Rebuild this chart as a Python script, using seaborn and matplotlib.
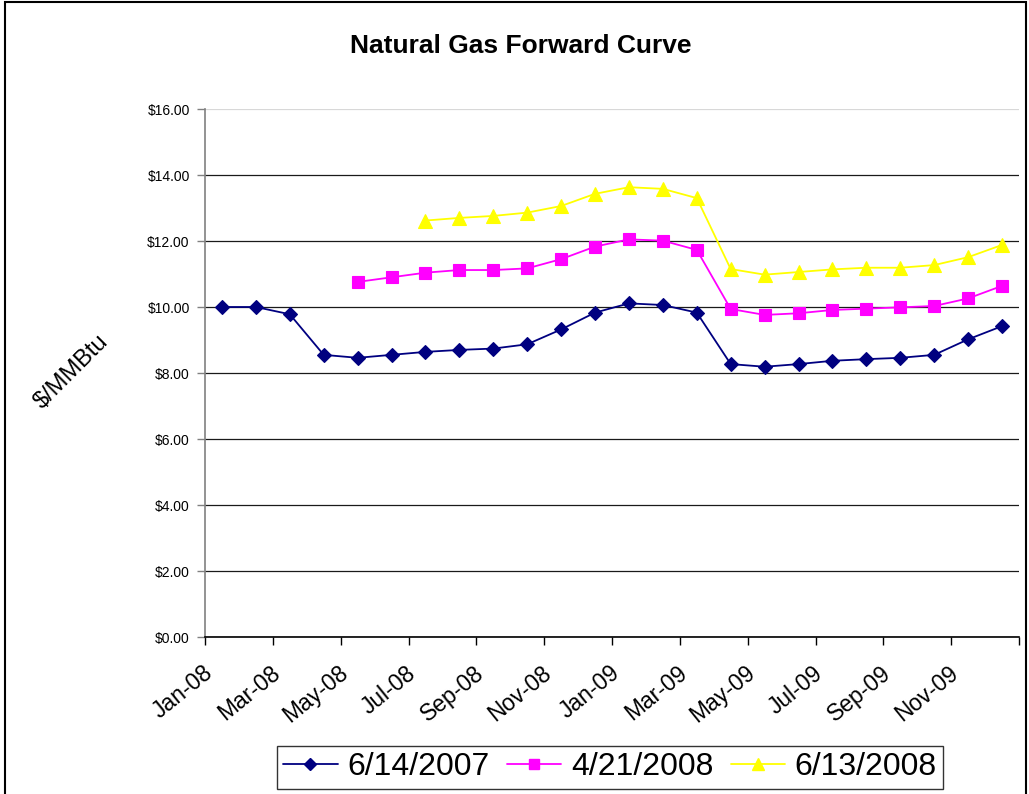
import numpy as np
import pandas as pd
import matplotlib
matplotlib.use("Agg")
import matplotlib.pyplot as plt
from matplotlib.lines import Line2D
from matplotlib.patches import Rectangle
import seaborn as sns

months = ["Jan-08", "Feb-08", "Mar-08", "Apr-08", "May-08", "Jun-08",
          "Jul-08", "Aug-08", "Sep-08", "Oct-08", "Nov-08", "Dec-08",
          "Jan-09", "Feb-09", "Mar-09", "Apr-09", "May-09", "Jun-09",
          "Jul-09", "Aug-09", "Sep-09", "Oct-09", "Nov-09", "Dec-09"]

series_names = ["6/14/2007", "4/21/2008", "6/13/2008"]

curve_2007_06_14 = [10.00, 10.00, 9.78, 8.55, 8.46, 8.55, 8.64, 8.70, 8.74, 8.87, 9.32, 9.83,
                    10.11, 10.06, 9.83, 8.27, 8.19, 8.27, 8.37, 8.42, 8.46, 8.55, 9.02, 9.42]
curve_2008_04_21 = [None, None, None, None, 10.76, 10.90, 11.04, 11.12, 11.12, 11.17, 11.45, 11.83,
                    12.05, 12.01, 11.73, 9.94, 9.76, 9.81, 9.91, 9.95, 9.99, 10.03, 10.26, 10.64]
curve_2008_06_13 = [None, None, None, None, None, None, 12.62, 12.70, 12.76, 12.86, 13.06, 13.43,
                    13.63, 13.58, 13.30, 11.15, 10.98, 11.06, 11.14, 11.19, 11.19, 11.27, 11.51, 11.88]

y_ticks = [0, 2, 4, 6, 8, 10, 12, 14, 16]

colors = ["#000080", "#FF00FF", "#FFFF00"]
markers = ["D", "s", "^"]
msizes = [6.8, 8.2, 9.5]

sns.set_theme(style="white")
plt.rcParams["font.family"] = ["Liberation Sans", "DejaVu Sans"]
plt.rcParams["text.color"] = "black"
plt.rcParams["axes.labelcolor"] = "black"
plt.rcParams["xtick.color"] = "black"
plt.rcParams["ytick.color"] = "black"

W, H = 1029, 794
fig = plt.figure(figsize=(W / 100, H / 100), dpi=100)
L, R, T, B = 205, 1019, 109, 637
ax = fig.add_axes([L / W, 1 - B / H, (R - L) / W, (B - T) / H])

all_curves = [curve_2007_06_14, curve_2008_04_21, curve_2008_06_13]
for name, vals, c, m, ms in zip(series_names, all_curves, colors, markers, msizes):
    df = pd.DataFrame({"idx": np.arange(len(months)),
                       "price": [np.nan if v is None else v for v in vals]}).dropna()
    sns.lineplot(data=df, x="idx", y="price", ax=ax, color=c, marker=m,
                 markersize=ms, markeredgecolor=c, markerfacecolor=c,
                 markeredgewidth=0.8, linewidth=1.3, legend=False, zorder=3)

ax.set_xlim(-0.5, len(months) - 0.5)
ax.set_ylim(0, 16)
ax.set_xlabel("")
ax.set_ylabel("")

# y axis
ax.set_yticks(y_ticks)
ax.set_yticklabels([f"${v:.2f}" for v in y_ticks], fontsize=10, color="black")
ax.tick_params(axis="y", direction="out", length=6, width=1, color="#808080",
               pad=5, left=True, labelcolor="black")
ax.yaxis.grid(True, color="#1a1a1a", linewidth=0.9)
ax.xaxis.grid(False)
gl = ax.get_ygridlines()
gl[-1].set_color("#d8d8d8")
ax.set_axisbelow(True)

# x axis: boundary ticks every 2 months, labels at even months
ax.set_xticks(np.arange(-0.5, len(months), 2))
ax.set_xticklabels([])
ax.tick_params(axis="x", which="major", direction="out", length=6, width=1,
               color="black", bottom=True)
lab_pos = np.arange(0, len(months), 2) - 0.36
ax.set_xticks(lab_pos, minor=True)
ax.set_xticklabels([months[i] for i in range(0, len(months), 2)], minor=True,
                   fontsize=16.5, rotation=39, ha="right", va="center",
                   rotation_mode="anchor", color="black")
ax.tick_params(axis="x", which="minor", length=0, pad=24)

for s in ["top", "right"]:
    ax.spines[s].set_visible(False)
ax.spines["left"].set_color("#808080")
ax.spines["left"].set_linewidth(1.2)
ax.spines["bottom"].set_color("black")
ax.spines["bottom"].set_linewidth(1.2)

# title and y label
fig.text(521 / W, 1 - 46 / H, "Natural Gas Forward Curve", fontsize=19,
         fontweight="bold", ha="center", va="center", color="black")
fig.text(72 / W, 1 - 372 / H, "$/MMBtu", fontsize=17, rotation=45,
         ha="center", va="center", color="black")

# legend
handles = [Line2D([0], [0], color=c, marker=m, markersize=ms * 0.95,
                  markerfacecolor=c, markeredgecolor=c, linewidth=1.3)
           for c, m, ms in zip(colors, markers, msizes)]
leg = fig.legend(handles, series_names, loc="upper center",
                 bbox_to_anchor=(610 / W, 1 - 746 / H), ncol=3, fontsize=23,
                 frameon=True, fancybox=False, edgecolor="black",
                 handlelength=1.7, handletextpad=0.3, columnspacing=0.55,
                 borderpad=0.2, borderaxespad=0)
leg.get_frame().set_linewidth(1.0)
for t in leg.get_texts():
    t.set_color("black")

# outer chart border
fig.add_artist(Rectangle((5 / W, -0.05), (1026 - 5) / W, 1.05 - 2 / H,
                         transform=fig.transFigure, fill=False,
                         edgecolor="black", linewidth=1.5))

fig.savefig("out.png", dpi=100)
